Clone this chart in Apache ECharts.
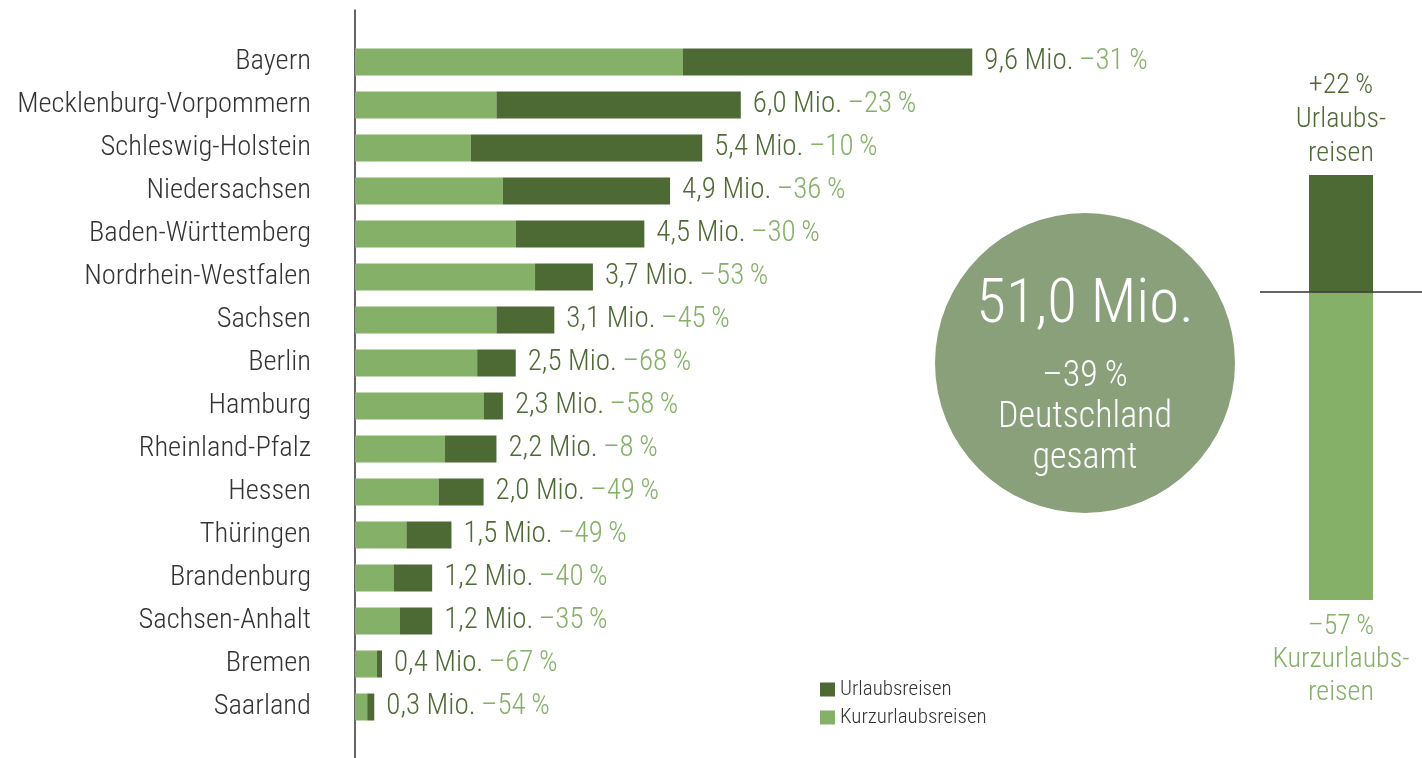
<!DOCTYPE html>
<html>
<head>
<meta charset="utf-8">
<script src="https://cdn.jsdelivr.net/npm/echarts@6/dist/echarts.min.js"></script>
<style>
html, body { margin: 0; padding: 0; background: #fff; }
#chart { width: 1422px; height: 758px; }
</style>
</head>
<body>
<div id="chart"></div>
<script>
var FONT = '"Liberation Sans Narrow", "Roboto Condensed", "Noto Sans", sans-serif';
var WEIGHT = 300;
var DARK = '#4d6a35';
var LIGHT = '#84b067';

// Bundesländer, von oben nach unten
var laender = ['Bayern', 'Mecklenburg-Vorpommern', 'Schleswig-Holstein', 'Niedersachsen',
	'Baden-Württemberg', 'Nordrhein-Westfalen', 'Sachsen', 'Berlin', 'Hamburg',
	'Rheinland-Pfalz', 'Hessen', 'Thüringen', 'Brandenburg', 'Sachsen-Anhalt',
	'Bremen', 'Saarland'];
// Kurzurlaubsreisen in Mio.
var kurz = [5.1, 2.2, 1.8, 2.3, 2.5, 2.8, 2.2, 1.9, 2.0, 1.4, 1.3, 0.8, 0.6, 0.7, 0.34, 0.19];
// Urlaubsreisen in Mio.
var urlaub = [4.5, 3.8, 3.6, 2.6, 2.0, 0.9, 0.9, 0.6, 0.3, 0.8, 0.7, 0.7, 0.6, 0.5, 0.08, 0.11];
// Beschriftung: gesamt und Veränderung
var gesamt = ['9,6', '6,0', '5,4', '4,9', '4,5', '3,7', '3,1', '2,5', '2,3', '2,2', '2,0', '1,5', '1,2', '1,2', '0,4', '0,3'];
var veraenderung = ['–31', '–23', '–10', '–36', '–30', '–53', '–45', '–68', '–58', '–8', '–49', '–49', '–40', '–35', '–67', '–54'];

// Deutschland gesamt
var totalText = ['51,0 Mio.', '–39\u2009%', 'Deutschland', 'gesamt'];
var totalValue = [51.0];
// Säule rechts: Urlaubsreisen / Kurzurlaubsreisen
var saeuleUrlaub = [14];
var saeuleKurz = [37];
var saeuleText = ['+22\u2009%\nUrlaubs-\nreisen', '–57\u2009%\nKurzurlaubs-\nreisen'];

var myChart = echarts.init(document.getElementById('chart'));
var option = {
	animation: false,
	textStyle: { fontFamily: FONT, fontWeight: WEIGHT },
	legend: {
		orient: 'vertical',
		left: 815,
		top: 674,
		itemWidth: 15,
		itemHeight: 14,
		itemGap: 7,
		icon: 'rect',
		data: ['Urlaubsreisen', 'Kurzurlaubsreisen'],
		textStyle: { fontFamily: FONT, fontWeight: WEIGHT, fontSize: 21, lineHeight: 21, color: '#333' }
	},
	grid: [
		{ left: 355, width: 643, top: 40.5, height: 688 },
		{ left: 355, width: 643, top: 10, bottom: 0 },
		{ left: 1260, width: 162, top: 175, height: 425 }
	],
	xAxis: [
		{ gridIndex: 0, type: 'value', min: 0, max: 10, show: false },
		{ gridIndex: 1, type: 'value', min: 0, max: 1, show: false },
		{ gridIndex: 2, type: 'category', data: ['Deutschland'], show: false }
	],
	yAxis: [
		{
			gridIndex: 0, type: 'category', data: laender, inverse: true,
			axisLine: { show: false }, axisTick: { show: false },
			axisLabel: { fontFamily: FONT, fontWeight: WEIGHT, fontSize: 28.5, color: '#333', margin: 44 }
		},
		{
			gridIndex: 1, type: 'value', min: 0, max: 1,
			axisLine: { show: true, lineStyle: { color: '#333', width: 1.5 } },
			axisTick: { show: false }, axisLabel: { show: false }, splitLine: { show: false }
		},
		{ gridIndex: 2, type: 'value', min: 0, max: 51, show: false }
	],
	series: [
		{
			name: 'Kurzurlaubsreisen', type: 'bar', stack: 'land',
			xAxisIndex: 0, yAxisIndex: 0, barWidth: 27,
			itemStyle: { color: LIGHT },
			data: kurz
		},
		{
			name: 'Urlaubsreisen', type: 'bar', stack: 'land',
			xAxisIndex: 0, yAxisIndex: 0, barWidth: 27,
			itemStyle: { color: DARK },
			label: {
				show: true, position: 'right', distance: 12,
				formatter: function (p) {
					return '{v|' + gesamt[p.dataIndex] + ' Mio.}  {p|' + veraenderung[p.dataIndex] + '\u2009%}';
				},
				rich: {
					v: { fontFamily: FONT, fontWeight: WEIGHT, fontSize: 29, color: DARK },
					p: { fontFamily: FONT, fontWeight: WEIGHT, fontSize: 29, color: LIGHT }
				}
			},
			data: urlaub
		},
		{
			name: 'KurzSaeule', type: 'bar', stack: 'de',
			xAxisIndex: 2, yAxisIndex: 2, barWidth: 64,
			itemStyle: { color: LIGHT },
			label: {
				show: true, position: 'bottom', distance: 10,
				formatter: saeuleText[1], fontFamily: FONT, fontWeight: WEIGHT, fontSize: 28, lineHeight: 33, color: LIGHT
			},
			markLine: {
				silent: true, symbol: 'none', label: { show: false },
				lineStyle: { color: '#333', width: 1.5, type: 'solid' },
				data: [{ yAxis: saeuleKurz[0] }]
			},
			data: saeuleKurz
		},
		{
			name: 'UrlaubSaeule', type: 'bar', stack: 'de',
			xAxisIndex: 2, yAxisIndex: 2, barWidth: 64,
			itemStyle: { color: DARK },
			label: {
				show: true, position: 'top', distance: 4,
				formatter: saeuleText[0], fontFamily: FONT, fontWeight: WEIGHT, fontSize: 28, lineHeight: 34, color: DARK
			},
			data: saeuleUrlaub
		},
		{
			type: 'pie', center: [1085, 363], radius: 150, silent: true,
			itemStyle: { color: '#8aa07b' },
			label: {
				show: true, position: 'center', padding: [10, 0, 0, 0],
				formatter: '{a|' + totalText[0] + '}\n{b|' + totalText[1] + '}\n{b|' + totalText[2] + '}\n{b|' + totalText[3] + '}',
				rich: {
					a: { fontFamily: FONT, fontWeight: WEIGHT, fontSize: 61, color: '#fff', lineHeight: 100 },
					b: { fontFamily: FONT, fontWeight: WEIGHT, fontSize: 36, color: '#fff', lineHeight: 41 }
				}
			},
			labelLine: { show: false },
			data: [{ name: 'Deutschland gesamt', value: totalValue[0] }]
		}
	]
};
myChart.setOption(option);
window.addEventListener('resize', function () {
	myChart.resize();
});
</script>
</body>
</html>
